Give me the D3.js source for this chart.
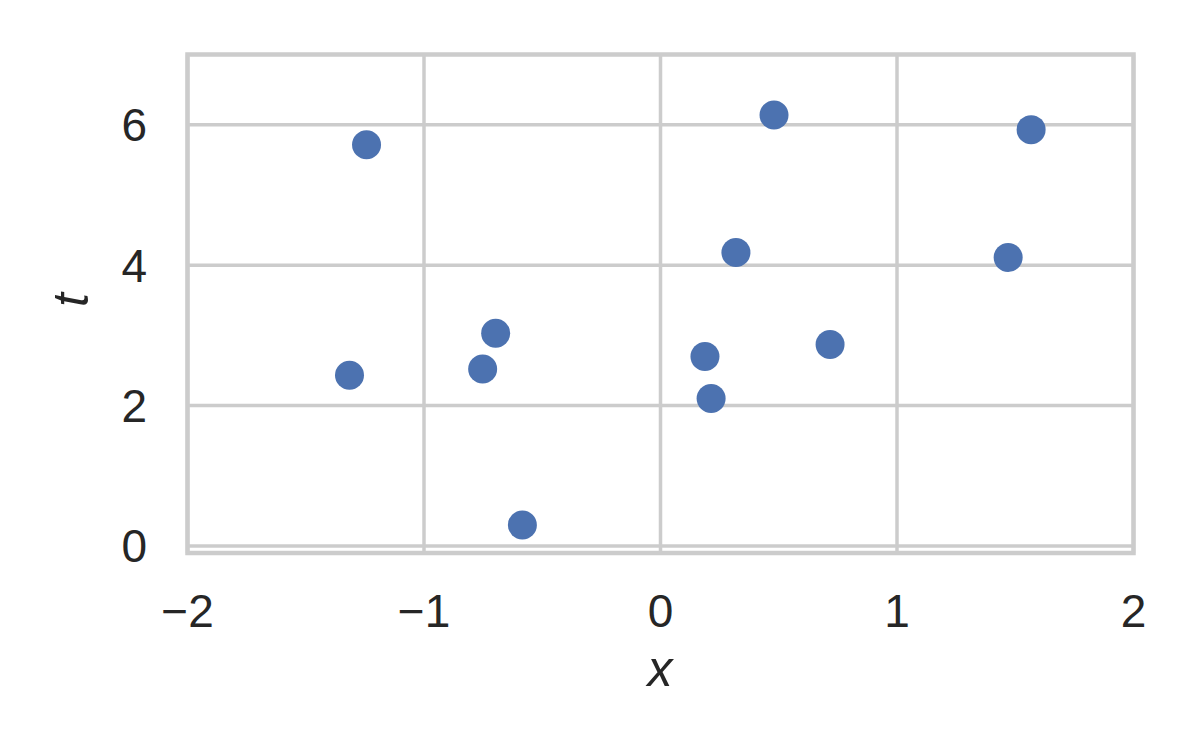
<!DOCTYPE html>
<html><head><meta charset="utf-8">
<script src="https://cdn.jsdelivr.net/npm/d3@7"></script>
<style>body{margin:0;background:#fff}svg{display:block}text{font-family:"Liberation Sans",Arial,sans-serif;fill:#262626}</style>
</head><body><svg id="c" width="1200" height="750"></svg>
<script>
const xValues = [-1.243, -1.315, -0.752, -0.697, -0.584, 0.188, 0.214, 0.319, 0.480, 0.717, 1.470, 1.567];
const tValues = [5.716, 2.43, 2.52, 3.03, 0.30, 2.70, 2.10, 4.18, 6.14, 2.87, 4.11, 5.93];
const xTicks = [-2, -1, 0, 1, 2];
const yTicks = [0, 2, 4, 6];

const svg = d3.select("#c");
const L = 187.5, R = 1133.5, T = 54.5, B = 553;
const x = d3.scaleLinear().domain([-2, 2]).range([L, R]);
const y = d3.scaleLinear().domain([-0.1, 7]).range([B, T]);
const grid = "#cccccc";

// gridlines
svg.append("g").selectAll("line").data(xTicks).join("line")
  .attr("x1", d => x(d)).attr("x2", d => x(d)).attr("y1", T).attr("y2", B)
  .attr("stroke", grid).attr("stroke-width", 3.5);
svg.append("g").selectAll("line").data(yTicks).join("line")
  .attr("y1", d => y(d)).attr("y2", d => y(d)).attr("x1", L).attr("x2", R)
  .attr("stroke", grid).attr("stroke-width", 3.5);

// spines
svg.append("rect").attr("x", L).attr("y", T).attr("width", R - L).attr("height", B - T)
  .attr("fill", "none").attr("stroke", grid).attr("stroke-width", 4.5);

// points
svg.append("g").selectAll("circle").data(xValues.map((v, i) => [v, tValues[i]])).join("circle")
  .attr("cx", d => x(d[0])).attr("cy", d => y(d[1])).attr("r", 14.5).attr("fill", "#4c72b0");

// tick labels
const fmt = d => d < 0 ? "\u2212" + Math.abs(d) : String(d);
svg.append("g").selectAll("text").data(xTicks).join("text")
  .attr("x", d => x(d)).attr("y", 627).attr("text-anchor", "middle")
  .style("font-size", "46px").text(fmt);
svg.append("g").selectAll("text").data(yTicks).join("text")
  .attr("x", 147).attr("y", d => y(d) + 16.5).attr("text-anchor", "end")
  .style("font-size", "46px").text(fmt);

// axis labels
svg.append("text").attr("x", 660).attr("y", 686).attr("text-anchor", "middle")
  .style("font-size", "50px").style("font-style", "italic").text("x");
svg.append("text").attr("transform", "translate(88,300) rotate(-90)").attr("text-anchor", "middle")
  .style("font-size", "50px").style("font-style", "italic").text("t");
</script></body></html>
